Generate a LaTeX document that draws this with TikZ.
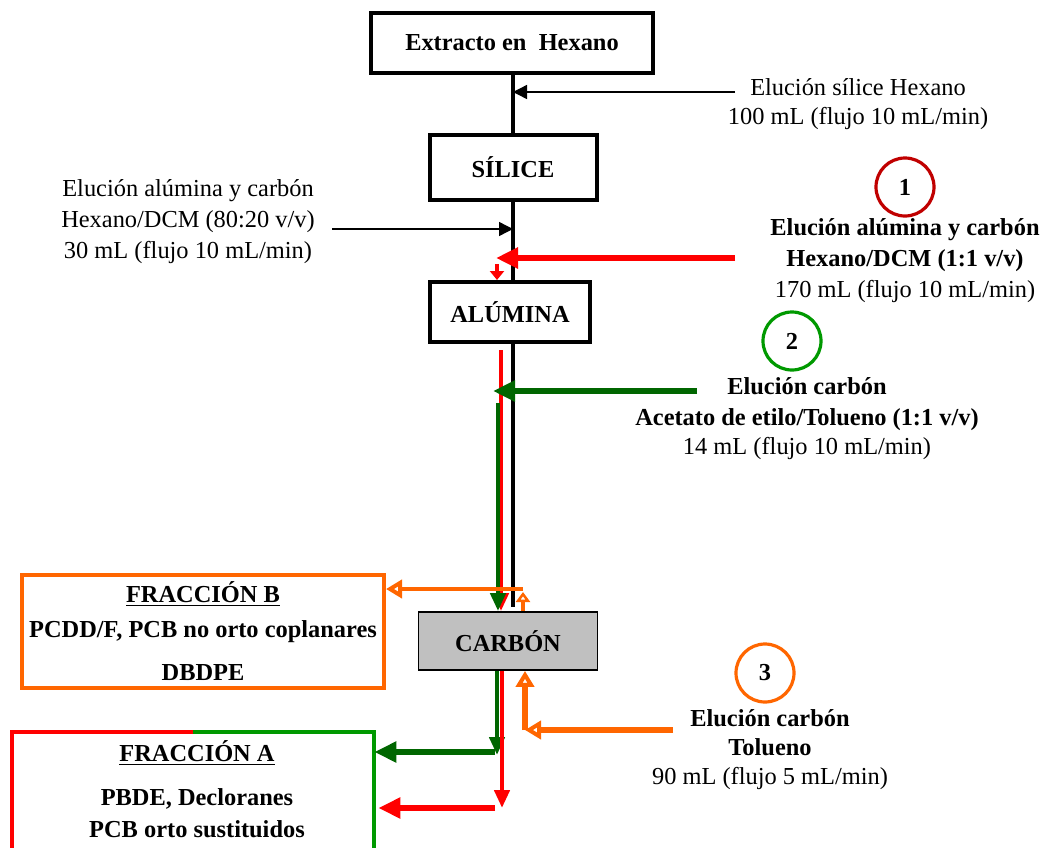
\documentclass[tikz,border=0pt]{standalone}
\usepackage{fontspec}
\setmainfont{Liberation Serif}
\usetikzlibrary{arrows.meta}

\definecolor{rojo}{HTML}{FF0000}
\definecolor{rojooscuro}{HTML}{C00000}
\definecolor{verde}{HTML}{006600}
\definecolor{verdeclaro}{HTML}{009900}
\definecolor{naranja}{HTML}{FF6600}
\definecolor{gris}{HTML}{C0C0C0}

\begin{document}
\begin{tikzpicture}[
  x=0.5pt, y=-0.5pt,
  font=\fontsize{12.2}{14.5}\selectfont,
  stage/.style={
      rectangle,
      draw,
      line width=2pt,
      text centered,
      minimum height=30pt,
      font=\fontsize{12.2}{14.5}\selectfont\bfseries,
      fill=white
  },
  frac/.style={
      rectangle,
      draw=naranja,
      line width=2pt,
      align=center,
      font=\fontsize{12.2}{14.5}\selectfont\bfseries
  },
  note/.style={
      align=center,
      inner sep=1pt
  },
  num/.style={
      circle,
      line width=1.6pt,
      minimum size=29pt,
      font=\fontsize{12.2}{14.5}\selectfont\bfseries
  },
  thin arrow/.style={
      -{Triangle[length=7pt,width=7pt]},
      line width=0.7pt
  },
  flow/.style={
      -{Triangle[length=11pt,width=10pt]},
      line width=3.4pt
  },
  drop/.style={
      -{Triangle[length=9pt,width=7.5pt]},
      line width=2.2pt
  },
  hollow/.style={
      -{Triangle[open,length=8pt,width=9pt]},
      line width=2.6pt
  }
]

\useasboundingbox (0,0) rectangle (1045,847);
\clip (0,0) rectangle (1045,847);

% ==================================================
% Columns
% ==================================================

\node[stage, minimum width=141pt] (extr) at (512,43)
      {Extracto en\ \ Hexano};

\node[stage, minimum width=83.5pt, minimum height=32.5pt]
      (sil) at (513,167)
      {SÍLICE};

\node[stage, minimum width=80pt]
      (alu) at (510,312)
      {ALÚMINA};

\node[stage, line width=0.9pt, fill=gris,
      minimum width=89.5pt, minimum height=29pt]
      (carb) at (508,641)
      {CARBÓN};

% ==================================================
% Fractions
% ==================================================

\node[frac, minimum width=181pt, minimum height=56.5pt]
      (fracB) at (203,631)
      {\underline{FRACCIÓN B}\\[3pt]
       PCDD/F, PCB no orto coplanares\\[7pt]
       DBDPE};

\node[minimum width=181pt, minimum height=74pt]
      (fracA) at (193,806) {};

\node[note, font=\fontsize{12.2}{14.5}\selectfont\bfseries]
      (fracAtxt) at (197,789)
      {\underline{FRACCIÓN A}\\[7.5pt]
       PBDE, Decloranes\\[1.5pt]
       PCB orto sustituidos};

\draw[rojo, line width=2pt]
      (fracA.north) -- (fracA.north west)
      -- (fracA.south west);
\draw[verdeclaro, line width=2pt]
      (fracA.north) -- (fracA.north east)
      -- (fracA.south east);

% ==================================================
% Elution labels
% ==================================================

\node[note] (lab0) at (858,104)
      {Elución sílice Hexano\\
       100 mL (flujo 10 mL/min)};

\node[note] (labL) at (188,222)
      {Elución alúmina y carbón\\[1pt]
       Hexano/DCM (80:20 v/v)\\[1pt]
       30 mL (flujo 10 mL/min)};

\node[num, draw=rojooscuro] (n1) at (905,187) {1};
\node[note] (lab1) at (905,261)
      {\textbf{Elución alúmina y carbón}\\[1pt]
       \textbf{Hexano/DCM (1:1 v/v)}\\[1pt]
       170 mL (flujo 10 mL/min)};

\node[num, draw=verdeclaro] (n2) at (792,341) {2};
\node[note] (lab2) at (807,419)
      {\textbf{Elución carbón}\\[1pt]
       \textbf{Acetato de etilo/Tolueno (1:1 v/v)}\\
       14 mL (flujo 10 mL/min)};

\node[num, draw=naranja] (n3) at (765,673) {3};
\node[note] (lab3) at (770,750)
      {\textbf{Elución carbón}\\
       \textbf{Tolueno}\\
       90 mL (flujo 5 mL/min)};

% ==================================================
% Junction points
% ==================================================

\coordinate (in0) at (735,92);
\coordinate (inL) at (332,229);
\coordinate (in1) at (735,258);
\coordinate (in2) at (697,391);
\coordinate (in3) at (673,730);
\coordinate (redtop) at (501,350);
\coordinate (reddrop) at (497,264);
\coordinate (greentop) at (498,403);
\coordinate (split) at (523,589);
\coordinate (turn) at (525,730);
\coordinate (outG) at (497,752);
\coordinate (outR) at (502,808);

% ==================================================
% Main column
% ==================================================

\draw[line width=2pt]
      (sil.north |- extr.south) -- (sil.north);
\draw[line width=2pt]
      (sil.south) -- (sil.south |- alu.north);
\draw[line width=2pt]
      (sil.south |- alu.south) -- ([yshift=2pt]sil.south |- carb.north);

\draw[thin arrow]
      (in0) -- (in0 -| sil.south);
\draw[thin arrow]
      (inL) -- (inL -| sil.south);

% ==================================================
% Step 1 (red)
% ==================================================

\draw[flow, rojo]
      (in1) -- ([xshift=-2.5pt]in1 -| redtop);
\draw[rojo, line width=1.8pt, -{Triangle[length=4.5pt,width=7pt]}]
      (reddrop) -- (reddrop |- alu.north);
\draw[drop, rojo]
      (redtop) -- (redtop |- carb.north);

% ==================================================
% Step 2 (green)
% ==================================================

\draw[flow, verde]
      (in2) -- ([xshift=-2.5pt]in2 -| greentop);
\draw[drop, verde]
      (greentop) -- (greentop |- carb.north);

% ==================================================
% Step 3 (orange)
% ==================================================

\draw[hollow, naranja, line width=2.4pt]
      (split) -- (split -| fracB.east);
\draw[naranja, line width=1.6pt, -{Triangle[open,length=5pt,width=7pt]}]
      (split |- carb.north) -- ([yshift=-1.5pt]split);
\draw[hollow, naranja, line width=3.4pt]
      (in3) -- (turn);
\draw[hollow, naranja]
      (turn) -- (turn |- carb.south);

% ==================================================
% Outlets to fraction A
% ==================================================

\draw[drop, verde]
      (outG |- carb.south) -- ([yshift=-1.5pt]outG);
\draw[drop, rojo]
      (outR |- carb.south) -- (outR);
\draw[flow, verde]
      ([xshift=-1pt]outG) -- (outG -| fracA.east);
\draw[flow, rojo]
      ([xshift=-3.5pt]outR) -- ([xshift=2pt]outR -| fracA.east);

\end{tikzpicture}
\end{document}
